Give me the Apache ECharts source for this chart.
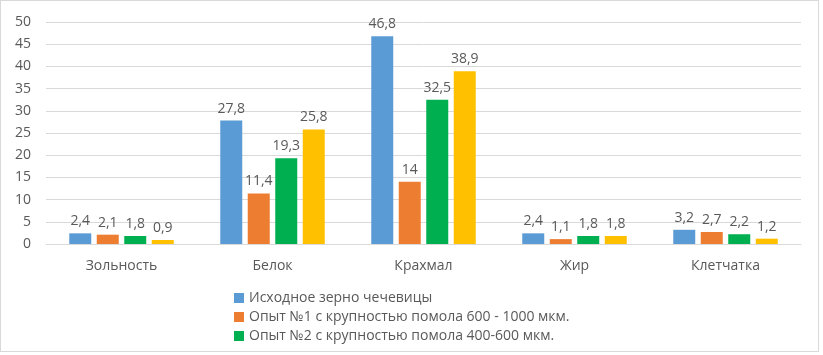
<!DOCTYPE html>
<html><head><meta charset="utf-8">
<script src="https://cdn.jsdelivr.net/npm/echarts@6/dist/echarts.min.js"></script>
<style>
html,body{margin:0;padding:0;background:#fff;}
#wrap{position:absolute;left:0;top:0;width:817px;height:350px;border:1px solid #d9d9d9;box-sizing:content-box;}
#c{width:817px;height:350px;}
</style></head><body>
<div id="wrap"><div id="c"></div></div>
<script>
var categories = ['Зольность','Белок','Крахмал','Жир','Клетчатка'];
var seriesNames = ['Исходное зерно чечевицы','Опыт №1 с крупностью помола 600 - 1000 мкм.','Опыт №2 с крупностью помола 400-600 мкм.','Опыт №3'];
var s1 = [2.4, 27.8, 46.8, 2.4, 3.2];
var s2 = [2.1, 11.4, 14, 1.1, 2.7];
var s3 = [1.8, 19.3, 32.5, 1.8, 2.2];
var s4 = [0.9, 25.8, 38.9, 1.8, 1.2];
var colors = ['#5B9BD5','#ED7D31','#00B050','#FFC000'];
var font = 'Open Sans';
var all = [s1,s2,s3,s4];
var chart = echarts.init(document.getElementById('c'));
chart.setOption({
  animation:false,
  textStyle:{fontFamily:font},
  grid:{left:45,right:17,top:21,height:222},
  legend:{
    data:seriesNames.slice(0,3),
    orient:'vertical', left:228, top:285, itemWidth:10, itemHeight:10, itemGap:5,
    textStyle:{fontFamily:font,fontSize:14,color:'#595959'}, icon:'rect'
  },
  xAxis:{type:'category',data:categories,
    axisLine:{lineStyle:{color:'#d9d9d9'}},axisTick:{show:false},
    axisLabel:{color:'#595959',fontSize:14,margin:15,fontFamily:font}},
  yAxis:{type:'value',min:0,max:50,interval:5,
    axisLine:{show:false},axisTick:{show:false},
    splitLine:{lineStyle:{color:'#d9d9d9'}},
    axisLabel:{color:'#595959',fontSize:14,margin:15,fontFamily:font}},
  series: all.map(function(d,i){return {
    name:seriesNames[i], type:'bar', data:d, barWidth:22, barGap:'25%',
    itemStyle:{color:colors[i]},
    label:{show:true,position:'top',distance:5,color:'#595959',fontSize:14,fontFamily:font,
      formatter:function(p){return String(p.value).replace('.',',');}}
  };})
});
</script></body></html>
